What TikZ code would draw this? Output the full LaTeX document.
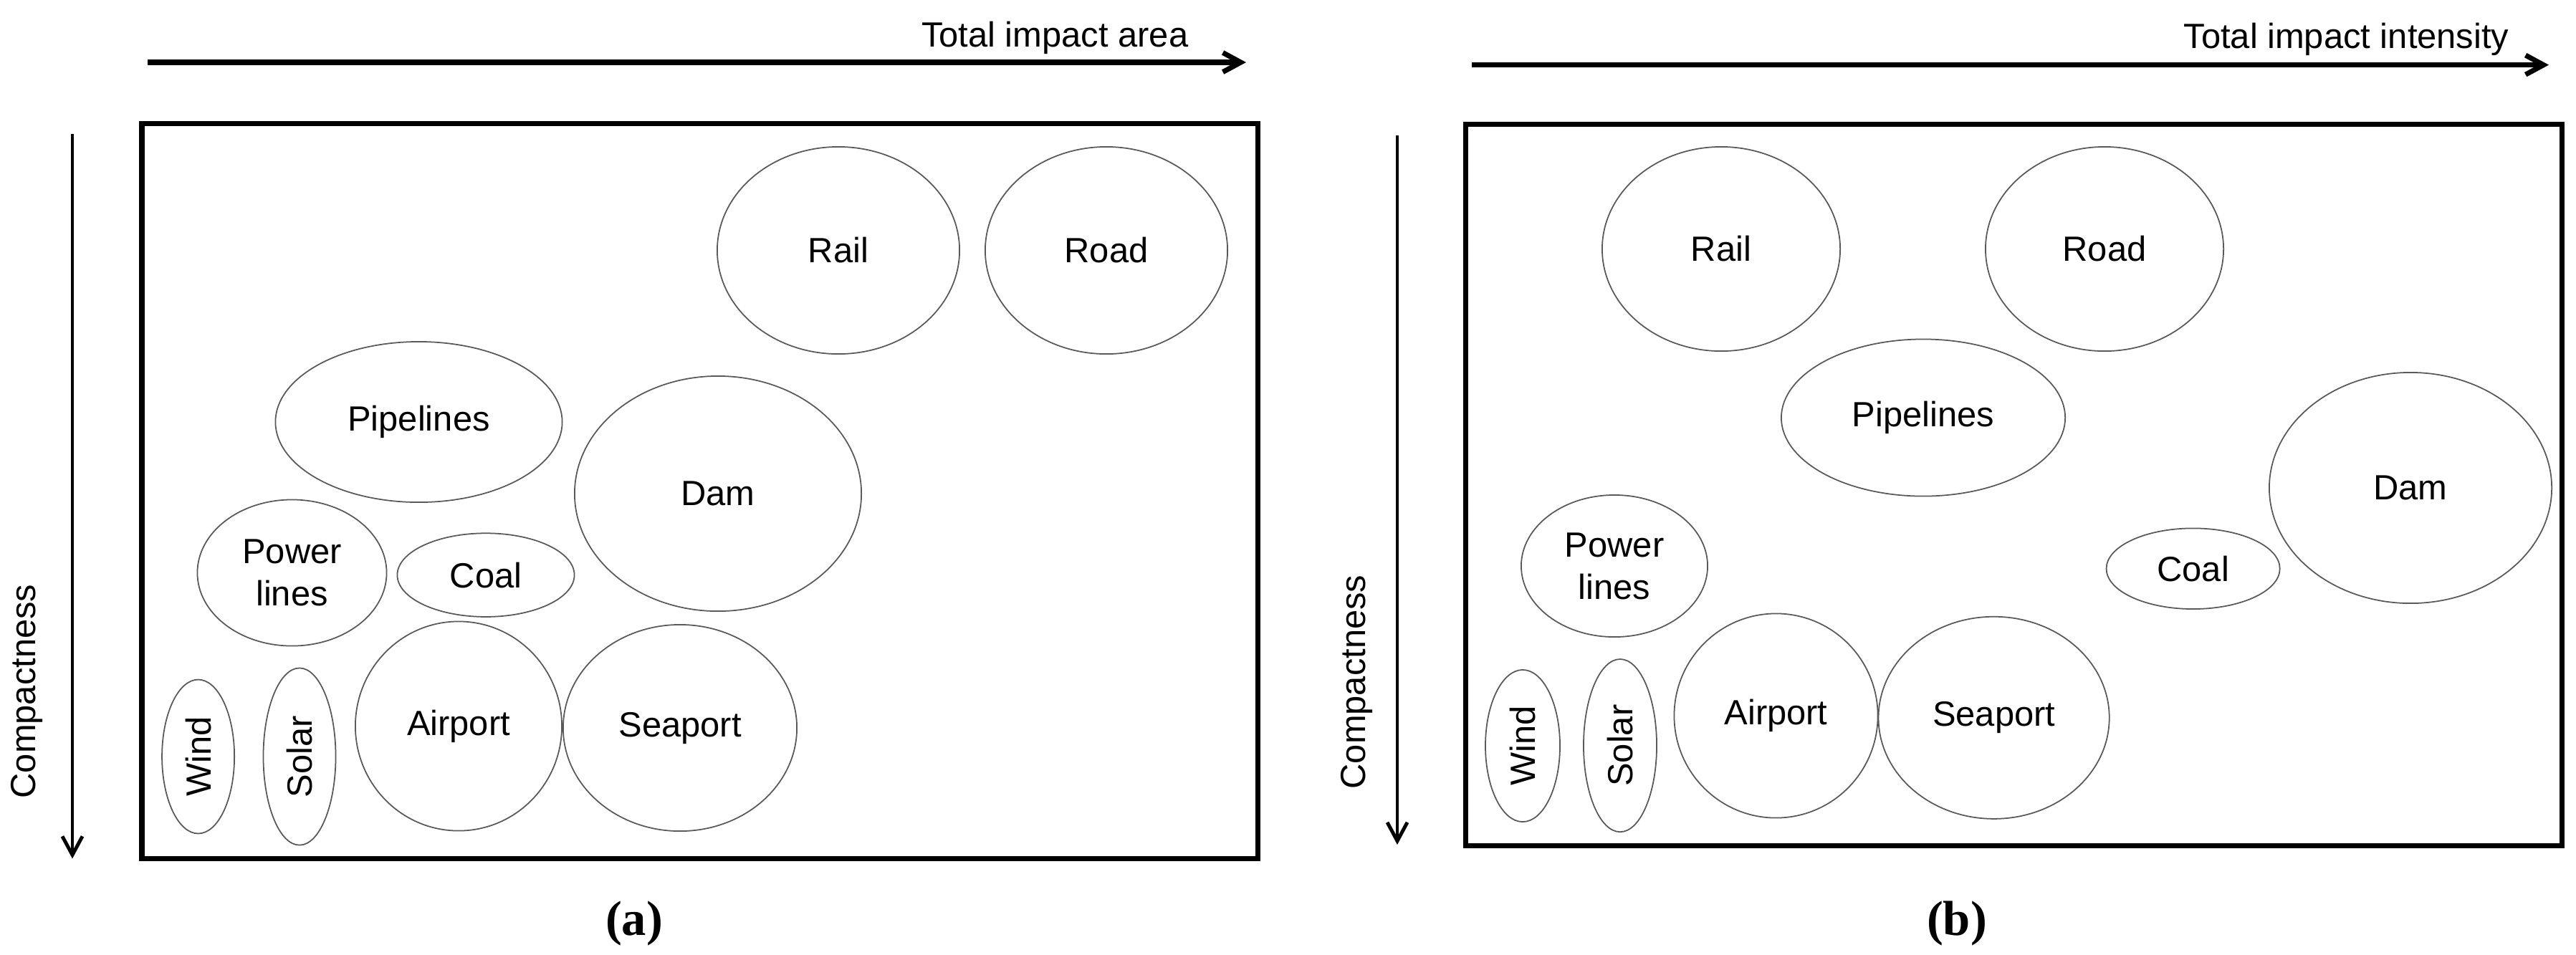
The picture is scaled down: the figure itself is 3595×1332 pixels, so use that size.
\documentclass[tikz,border=0pt]{standalone}
\usepackage{fontspec}
\setmainfont{Liberation Sans}
\newfontfamily\capfont{Liberation Serif}
\usetikzlibrary{shapes.geometric,arrows.meta}
\newcommand\lbl{\fontsize{13.9}{16.8}\selectfont}
\newcommand\capstyle{\capfont\bfseries\fontsize{19.5}{22}\selectfont}
\tikzset{
  blob/.style 2 args={ellipse, draw=black!65, line width=0.5pt, inner sep=0pt, outer sep=0pt,
    minimum width=#1, minimum height=#2, font=\lbl, align=center},
  toparrow/.style={line width=2pt, -{Straight Barb[length=0.25cm,width=0.27cm,line width=2pt]}},
  sidearrow/.style={line width=1.4pt, -{Straight Barb[length=0.26cm,width=0.28cm,line width=1.4pt]}},
  framebox/.style={draw=black, line width=2pt},
  axislabel/.style={font=\lbl, inner sep=0pt},
  caplabel/.style={font=\capstyle, inner sep=0pt}
}
\begin{document}
\begin{tikzpicture}[x=0.01cm,y=-0.01cm]
\useasboundingbox (0,0) rectangle (3595,1332);
% ---------- panel (a) ----------
\coordinate (aTs) at (206,87);
\coordinate (aTe) at (1739,87);
\draw[toparrow] (aTs) -- (aTe);
\node[axislabel, anchor=base east] (aTl) at (1659,65) {Total impact area};
\coordinate (aF1) at (198,172.5);
\coordinate (aF2) at (1755.5,1198.5);
\draw[framebox] (aF1) rectangle (aF2);
\coordinate (aLs) at (101,187);
\coordinate (aLe) at (101,1198.5);
\draw[sidearrow] (aLs) -- (aLe);
\node[axislabel, rotate=90] (aLl) at (38,965) {Compactness};
\node[blob={3.38cm}{2.89cm}] (aRail) at (1170,349.5) {Rail};
\node[blob={3.38cm}{2.89cm}] (aRoad) at (1544,349.5) {Road};
\node[blob={4.0cm}{2.24cm}] (aPipe) at (584.5,589) {Pipelines};
\node[blob={4.0cm}{3.28cm}] (aDam) at (1002,689) {Dam};
\node[blob={2.64cm}{2.04cm}] (aPow) at (407.5,799.5) {Power\\lines};
\node[blob={2.47cm}{1.166cm}] (aCoal) at (678,802.6) {Coal};
\node[blob={2.88cm}{2.92cm}] (aAir) at (640,1013.5) {Airport};
\node[blob={3.26cm}{2.88cm}] (aSea) at (949,1016) {Seaport};
\node[blob={2.148cm}{1.01cm}, rotate=90] (aWind) at (276.6,1056) {Wind};
\node[blob={2.47cm}{1.01cm}, rotate=90] (aSolar) at (418,1056) {Solar};
\node[caplabel] (aCap) at (885,1289) {(a)};
% ---------- panel (b) ----------
\coordinate (bTs) at (2054,90.6);
\coordinate (bTe) at (3557,90.6);
\draw[toparrow] (bTs) -- (bTe);
\node[axislabel, anchor=base east] (bTl) at (3502,67) {Total impact intensity};
\coordinate (bF1) at (2045,173);
\coordinate (bF2) at (3575,1180);
\draw[framebox] (bF1) rectangle (bF2);
\coordinate (bLs) at (1950,189);
\coordinate (bLe) at (1950,1179);
\draw[sidearrow] (bLs) -- (bLe);
\node[axislabel, rotate=90] (bLl) at (1893,952) {Compactness};
\node[blob={3.32cm}{2.85cm}] (bRail) at (2402,347.5) {Rail};
\node[blob={3.32cm}{2.85cm}] (bRoad) at (2937,347.5) {Road};
\node[blob={3.96cm}{2.19cm}] (bPipe) at (2684,583) {Pipelines};
\node[blob={3.94cm}{3.22cm}] (bDam) at (3364,681) {Dam};
\node[blob={2.6cm}{1.98cm}] (bPow) at (2253,790) {Power\\lines};
\node[blob={2.42cm}{1.126cm}] (bCoal) at (3060.6,793.7) {Coal};
\node[blob={2.84cm}{2.85cm}] (bAir) at (2478.5,999) {Airport};
\node[blob={3.22cm}{2.82cm}] (bSea) at (2782.6,1001.8) {Seaport};
\node[blob={2.12cm}{1.04cm}, rotate=90] (bWind) at (2125,1041) {Wind};
\node[blob={2.41cm}{1.02cm}, rotate=90] (bSolar) at (2261,1040.6) {Solar};
\node[caplabel] (bCap) at (2731,1289) {(b)};
\end{tikzpicture}
\end{document}
